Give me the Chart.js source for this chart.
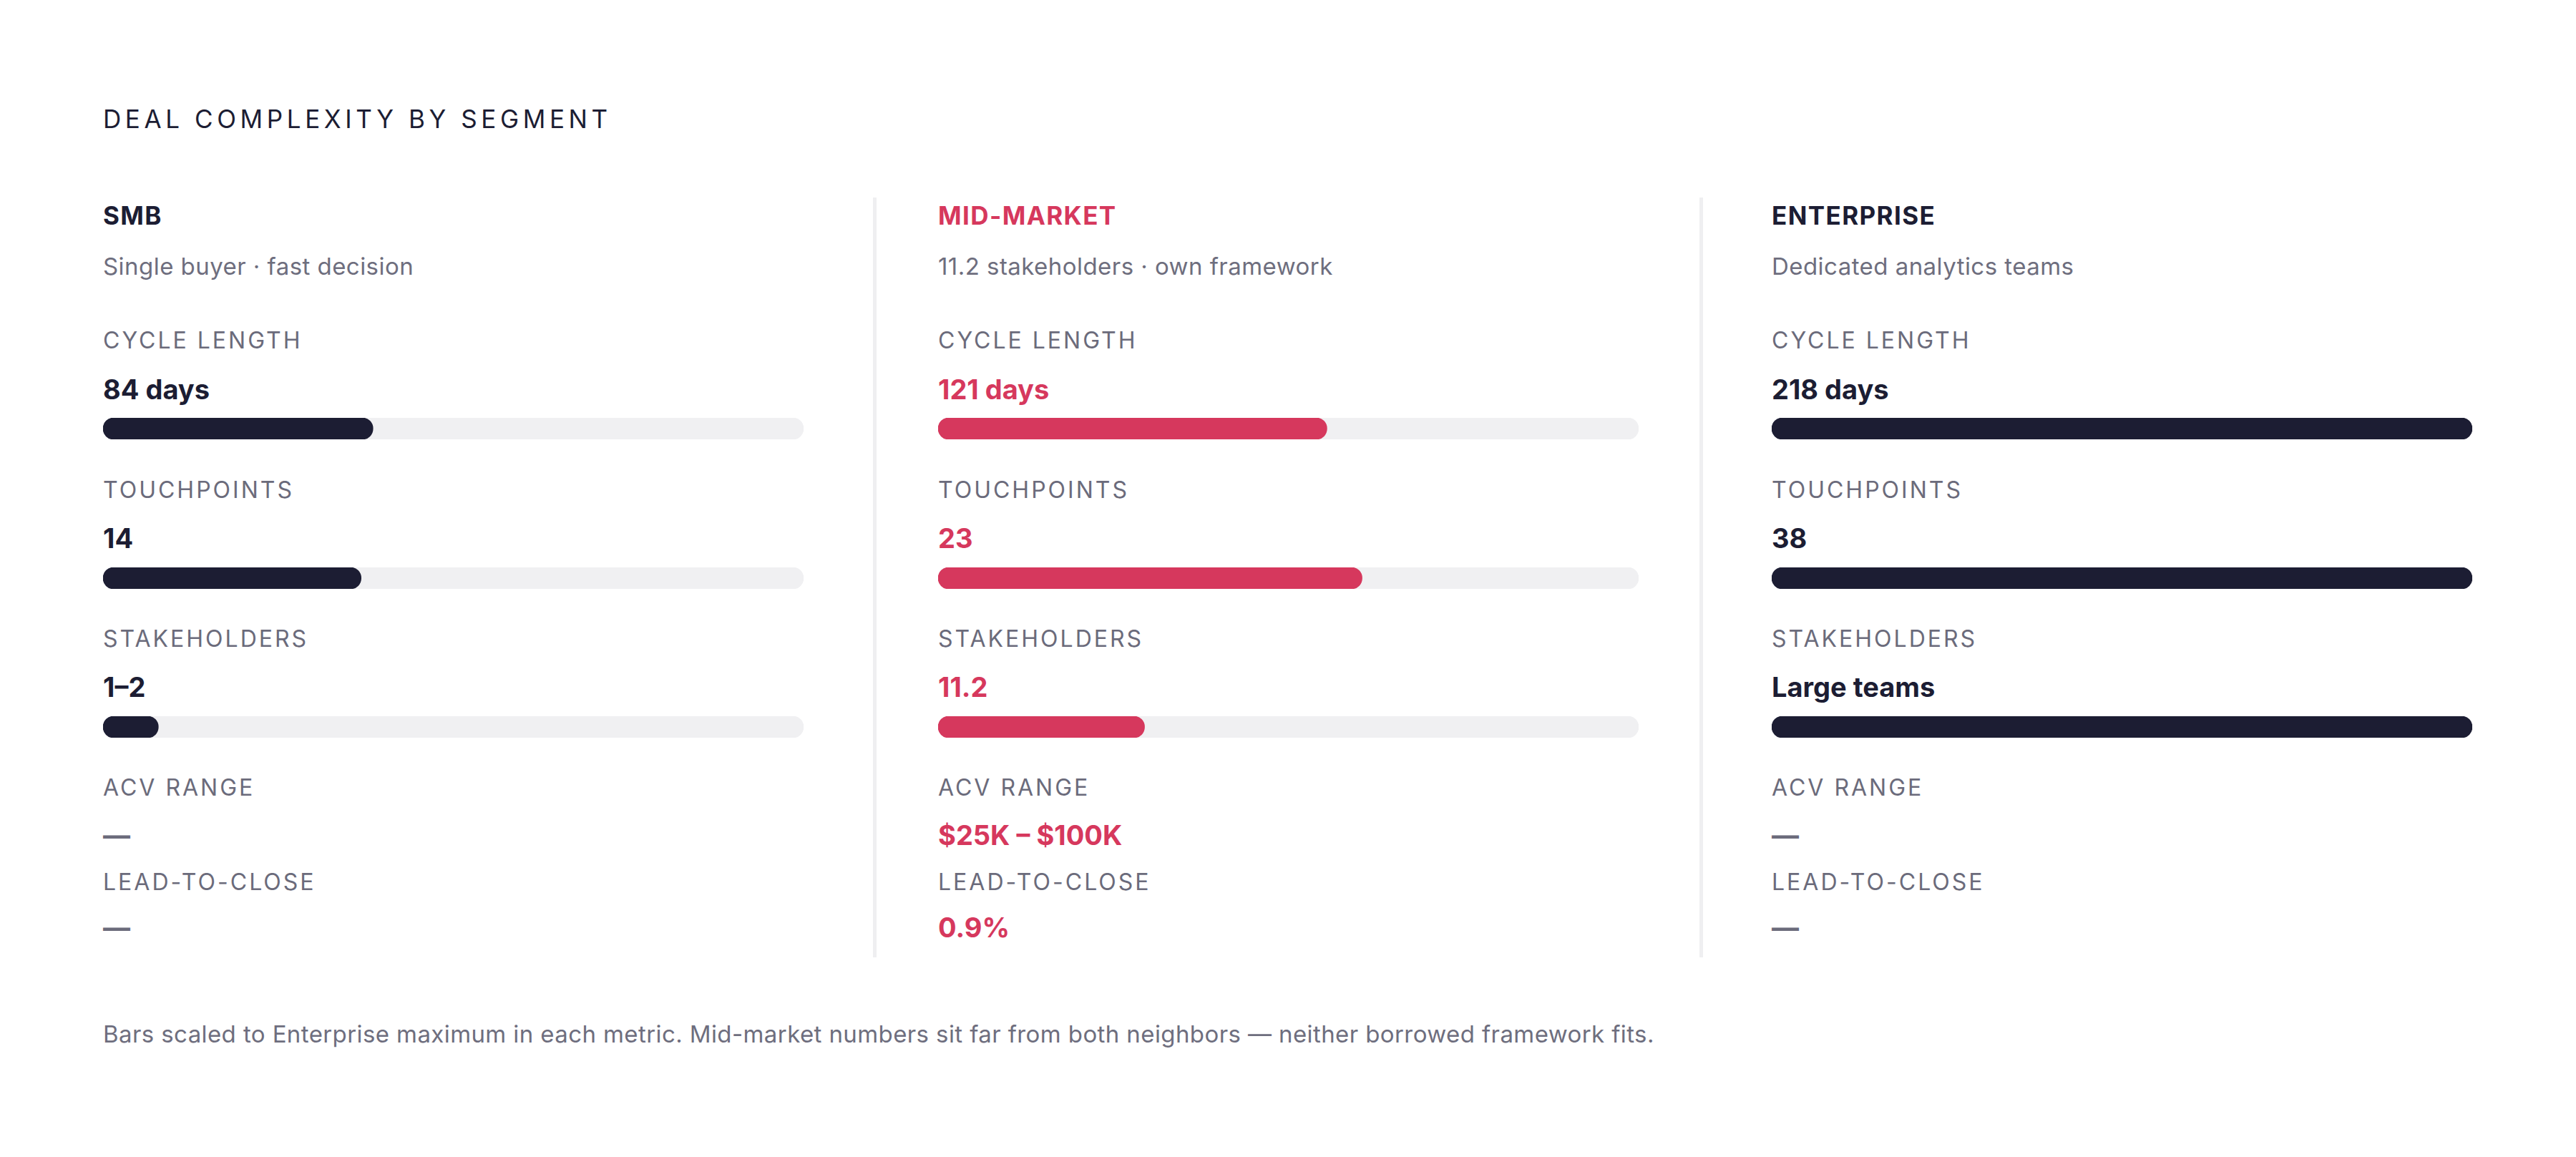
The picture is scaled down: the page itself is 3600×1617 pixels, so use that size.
<!DOCTYPE html>
<html>
<head>
<meta charset="utf-8">
<script src="https://cdn.jsdelivr.net/npm/chart.js@4.4.1/dist/chart.umd.min.js"></script>
<style>
  html, body { margin: 0; padding: 0; background: #ffffff; }
  body { width: 3600px; height: 1617px; position: relative; overflow: hidden; font-family: Inter, "Noto Sans", sans-serif; }
  .t { position: absolute; white-space: nowrap; line-height: 1; }
  .title { font-size: 35px; letter-spacing: 5.6px; color: #1c1d33; font-weight: 400; }
  .seg { font-size: 35px; font-weight: 700; letter-spacing: 1.4px; }
  .sub { font-size: 33px; color: #6e6e7e; font-weight: 400; letter-spacing: 0.45px; }
  .lab { font-size: 32px; color: #6b6b7b; letter-spacing: 3px; font-weight: 400; }
  .val { font-size: 38px; font-weight: 700; }
  .foot { font-size: 33px; color: #6e6e7e; letter-spacing: 0.4px; }
  .div { position: absolute; width: 5px; background: #efeff1; }
  .bar { position: absolute; }
</style>
</head>
<body>
<script>
// ---- data ----
const segments = ['SMB', 'MID-MARKET', 'ENTERPRISE'];
const subtitles = ['Single buyer · fast decision', '11.2 stakeholders · own framework', 'Dedicated analytics teams'];
const metricLabels = ['CYCLE LENGTH', 'TOUCHPOINTS', 'STAKEHOLDERS', 'ACV RANGE', 'LEAD-TO-CLOSE'];
const cycleDays = [84, 121, 218];
const touchpoints = [14, 23, 38];
const stakeholderBars = [3, 11.2, 38];
const stakeholderText = ['1–2', '11.2', 'Large teams'];
const acvRange = ['—', '$25K – $100K', '—'];
const leadToClose = ['—', '0.9%', '—'];
const titleText = 'DEAL COMPLEXITY BY SEGMENT';
const footnote = 'Bars scaled to Enterprise maximum in each metric. Mid-market numbers sit far from both neighbors — neither borrowed framework fits.';

// ---- style ----
const NAVY = '#1c1d33', PINK = '#d6385d', GRAY = '#6b6b7b', TRACK = '#f0f0f2';
const segColors = [NAVY, PINK, NAVY];
const colX = [144, 1311, 2476];
const trackW = 979, barH = 30;

function text(cls, str, left, baseline, size, color) {
  const d = document.createElement('div');
  d.className = 't ' + cls;
  d.textContent = str;
  d.style.left = left + 'px';
  d.style.top = (baseline - 0.864 * size) + 'px';
  if (color) d.style.color = color;
  document.body.appendChild(d);
  return d;
}

text('title', titleText, 144, 179, 35);

// dividers
[1220, 2375].forEach(x => {
  const d = document.createElement('div');
  d.className = 'div';
  d.style.left = x + 'px'; d.style.top = '276px'; d.style.height = (1338 - 276) + 'px';
  document.body.appendChild(d);
});

const barMetrics = [
  { vals: cycleDays, txt: cycleDays.map(v => v + ' days') },
  { vals: touchpoints, txt: touchpoints.map(v => String(v)) },
  { vals: stakeholderBars, txt: stakeholderText }
];
const labBase = [488, 697, 905, 1113, 1245];
const valBase = [558, 766, 974, 1181, 1310];
const barTop = [584, 793, 1001];

function makeBar(x, y, value, max, color) {
  const wrap = document.createElement('div');
  wrap.className = 'bar';
  wrap.style.left = x + 'px'; wrap.style.top = y + 'px';
  wrap.style.width = trackW + 'px'; wrap.style.height = barH + 'px';
  const c = document.createElement('canvas');
  c.width = trackW; c.height = barH;
  c.style.width = trackW + 'px'; c.style.height = barH + 'px';
  wrap.appendChild(c);
  document.body.appendChild(wrap);
  new Chart(c, {
    type: 'bar',
    data: {
      labels: [''],
      datasets: [
        { data: [value], backgroundColor: color, borderRadius: 15, borderSkipped: false, grouped: false, order: 1, barPercentage: 1, categoryPercentage: 1 },
        { data: [max], backgroundColor: TRACK, borderRadius: 15, borderSkipped: false, grouped: false, order: 2, barPercentage: 1, categoryPercentage: 1 }
      ]
    },
    options: {
      indexAxis: 'y',
      responsive: false,
      animation: false,
      devicePixelRatio: 1,
      layout: { padding: 0 },
      plugins: { legend: { display: false }, tooltip: { enabled: false } },
      scales: {
        x: { display: false, min: 0, max: max },
        y: { display: false }
      }
    }
  });
}

segments.forEach((seg, i) => {
  const x = colX[i];
  const col = segColors[i];
  text('seg', seg, x, 314, 35, col);
  text('sub', subtitles[i], x, 385, 33);
  barMetrics.forEach((m, k) => {
    text('lab', metricLabels[k], x, labBase[k], 32);
    text('val', m.txt[i], x, valBase[k], 38, col);
    const max = Math.max(...m.vals);
    makeBar(x, barTop[k], m.vals[i], max, col);
  });
  text('lab', metricLabels[3], x, labBase[3], 32);
  text('val', acvRange[i], x, valBase[3], 38, acvRange[i] === '—' ? GRAY : col);
  text('lab', metricLabels[4], x, labBase[4], 32);
  text('val', leadToClose[i], x, valBase[4], 38, leadToClose[i] === '—' ? GRAY : col);
});

text('foot', footnote, 144, 1458, 33);
</script>
</body>
</html>
